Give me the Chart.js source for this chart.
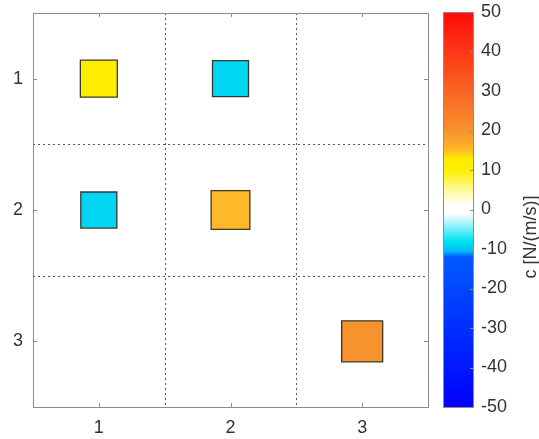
<!DOCTYPE html>
<html>
<head>
<meta charset="utf-8">
<script src="https://cdn.jsdelivr.net/npm/chart.js@4.4.1/dist/chart.umd.min.js"></script>
<style>
  html, body { margin: 0; padding: 0; background: #ffffff; overflow: hidden; }
  #wrap { position: relative; width: 539px; height: 439px; }
  canvas { position: absolute; left: 0; top: 0; }
</style>
</head>
<body>
<div id="wrap">
  <canvas id="main" width="539" height="439"></canvas>
  <canvas id="cbar" width="539" height="439"></canvas>
</div>
<script>
// ---- data ----
const xTickLabels = ['1', '2', '3'];
const yTickLabels = ['1', '2', '3'];
const cellCol = [1, 2, 1, 2, 3];
const cellRow = [1, 1, 2, 2, 3];
const cellValue = [11, -9, -9, 15, 20];
const colorbarTicks = [50, 40, 30, 20, 10, 0, -10, -20, -30, -40, -50];
const colorbarTitle = 'c [N/(m/s)]';
const cMin = -50, cMax = 50;

// ---- colormap (value -> rgb) ----
const cmapStops = [
  [-50, [0, 0, 255]],
  [-12, [0, 90, 255]],
  [-10.5, [0, 190, 250]],
  [-8, [0, 228, 240]],
  [-4, [150, 240, 250]],
  [-1, [255, 255, 255]],
  [1, [255, 255, 255]],
  [5, [255, 250, 150]],
  [10, [255, 238, 0]],
  [13, [255, 235, 0]],
  [15, [253, 185, 40]],
  [20, [247, 146, 45]],
  [30, [250, 100, 35]],
  [50, [255, 10, 10]]
];
function cmap(v) {
  if (v <= cmapStops[0][0]) return 'rgb(' + cmapStops[0][1].join(',') + ')';
  for (let i = 1; i < cmapStops.length; i++) {
    const [v1, c1] = cmapStops[i];
    const [v0, c0] = cmapStops[i - 1];
    if (v <= v1) {
      const t = (v - v0) / (v1 - v0);
      const c = c0.map((a, k) => Math.round(a + (c1[k] - a) * t));
      return 'rgb(' + c.join(',') + ')';
    }
  }
  return 'rgb(' + cmapStops[cmapStops.length - 1][1].join(',') + ')';
}
// marker side length grows with |value|
function sideFor(v) { return 32 + 0.45 * Math.abs(v); }

const FONT = '"Liberation Sans", Arial, sans-serif';
const TXT = '#333333';
const AXC = '#8c8c8c';
function noPad(s) { s.paddingTop = 0; s.paddingBottom = 0; s.paddingLeft = 0; s.paddingRight = 0; }

// ---- main matrix plot ----
const matrixDecor = {
  id: 'matrixDecor',
  beforeDatasetsDraw(chart) {
    const { ctx, chartArea: a, scales: { x, y } } = chart;
    ctx.save();
    ctx.strokeStyle = '#555555';
    ctx.lineWidth = 1;
    ctx.setLineDash([2, 3]);
    [1.5, 2.5].forEach(v => {
      const px = Math.round(x.getPixelForValue(v)) + 0.5;
      ctx.beginPath(); ctx.moveTo(px, a.top); ctx.lineTo(px, a.bottom); ctx.stroke();
      const py = Math.round(y.getPixelForValue(v)) + 0.5;
      ctx.beginPath(); ctx.moveTo(a.left, py); ctx.lineTo(a.right, py); ctx.stroke();
    });
    ctx.setLineDash([]);
    ctx.strokeStyle = AXC;
    ctx.lineWidth = 1;
    const L = 4;
    [1, 2, 3].forEach(v => {
      const px = Math.round(x.getPixelForValue(v)) + 0.5;
      ctx.beginPath();
      ctx.moveTo(px, a.bottom); ctx.lineTo(px, a.bottom - L);
      ctx.moveTo(px, a.top); ctx.lineTo(px, a.top + L);
      ctx.stroke();
      const py = Math.round(y.getPixelForValue(v)) + 0.5;
      ctx.beginPath();
      ctx.moveTo(a.left, py); ctx.lineTo(a.left + L, py);
      ctx.moveTo(a.right, py); ctx.lineTo(a.right - L, py);
      ctx.stroke();
    });
    ctx.strokeRect(Math.round(a.left) + 0.5, Math.round(a.top) + 0.5,
      Math.round(a.right - a.left), Math.round(a.bottom - a.top));
    ctx.restore();
  }
};

new Chart(document.getElementById('main'), {
  type: 'scatter',
  data: {
    datasets: [{
      data: cellCol.map((c, i) => ({ x: c, y: cellRow[i], v: cellValue[i] })),
      pointStyle: 'rect',
      pointRadius: cellValue.map(v => sideFor(v) / (2 * Math.SQRT1_2)),
      pointHoverRadius: cellValue.map(v => sideFor(v) / (2 * Math.SQRT1_2)),
      backgroundColor: cellValue.map(v => cmap(v)),
      borderColor: '#3a3a2a',
      borderWidth: 1.3
    }]
  },
  options: {
    responsive: false,
    animation: false,
    events: [],
    layout: { autoPadding: false, padding: { left: 0, top: 13, right: 111, bottom: 0 } },
    plugins: { legend: { display: false }, tooltip: { enabled: false } },
    scales: {
      x: {
        type: 'linear', min: 0.5, max: 3.5,
        afterBuildTicks: s => { s.ticks = [1, 2, 3].map(v => ({ value: v })); },
        afterFit: s => { s.height = 32; noPad(s); },
        ticks: {
          callback: (v) => xTickLabels[v - 1], padding: 10,
          color: TXT, font: { family: FONT, size: 18 }, maxRotation: 0
        },
        grid: { display: false, drawTicks: false },
        border: { display: false }
      },
      y: {
        type: 'linear', min: 0.5, max: 3.5, reverse: true,
        afterBuildTicks: s => { s.ticks = [1, 2, 3].map(v => ({ value: v })); },
        afterFit: s => { s.width = 33; noPad(s); },
        ticks: {
          callback: (v) => yTickLabels[v - 1], padding: 10,
          color: TXT, font: { family: FONT, size: 18 }
        },
        grid: { display: false, drawTicks: false },
        border: { display: false }
      }
    }
  },
  plugins: [matrixDecor]
});

// ---- colorbar ----
const colorbarDecor = {
  id: 'colorbarDecor',
  beforeDatasetsDraw(chart) {
    const { ctx, chartArea: a, scales: { y } } = chart;
    ctx.save();
    const g = ctx.createLinearGradient(0, y.getPixelForValue(cMin), 0, y.getPixelForValue(cMax));
    for (let v = cMin; v <= cMax; v += 0.5) {
      g.addColorStop((v - cMin) / (cMax - cMin), cmap(v));
    }
    ctx.fillStyle = g;
    ctx.fillRect(a.left, a.top, a.right - a.left, a.bottom - a.top);
    ctx.strokeStyle = AXC;
    ctx.lineWidth = 1;
    ctx.strokeRect(Math.round(a.left) + 0.5, Math.round(a.top) + 0.5,
      Math.round(a.right - a.left), Math.round(a.bottom - a.top));
    colorbarTicks.forEach(v => {
      const py = Math.round(y.getPixelForValue(v)) + 0.5;
      ctx.beginPath(); ctx.moveTo(a.right, py); ctx.lineTo(a.right - 3, py); ctx.stroke();
    });
    // title
    ctx.translate(531, 237);
    ctx.rotate(-Math.PI / 2);
    ctx.fillStyle = TXT;
    ctx.font = '18px ' + FONT;
    ctx.textAlign = 'center';
    ctx.textBaseline = 'middle';
    ctx.fillText(colorbarTitle, 0, 0);
    ctx.restore();
  }
};

new Chart(document.getElementById('cbar'), {
  type: 'scatter',
  data: { datasets: [{ data: [] }] },
  options: {
    responsive: false,
    animation: false,
    events: [],
    layout: { autoPadding: false, padding: { left: 443, top: 12, right: 26, bottom: 32 } },
    plugins: { legend: { display: false }, tooltip: { enabled: false } },
    scales: {
      x: { display: false, min: 0, max: 1 },
      y: {
        type: 'linear', position: 'right', min: cMin, max: cMax,
        afterBuildTicks: s => { s.ticks = colorbarTicks.map(v => ({ value: v })); },
        afterFit: s => { s.width = 40; noPad(s); },
        ticks: { padding: 8, color: TXT, font: { family: FONT, size: 18 } },
        grid: { display: false, drawTicks: false },
        border: { display: false }
      }
    }
  },
  plugins: [colorbarDecor]
});
</script>
</body>
</html>
